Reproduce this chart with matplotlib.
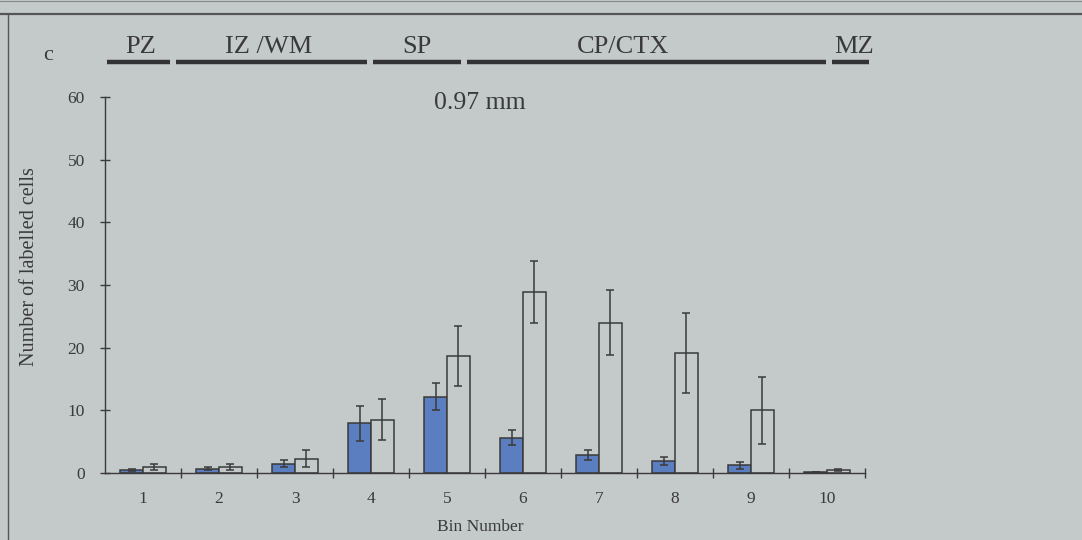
import matplotlib
matplotlib.use("Agg")
import numpy as np
from matplotlib import pyplot as plt
from matplotlib.lines import Line2D
import matplotlib.transforms as mtransforms

# values
bins = [1, 2, 3, 4, 5, 6, 7, 8, 9, 10]
filled_mean = [0.5, 0.7, 1.5, 7.9, 12.2, 5.6, 2.8, 1.9, 1.2, 0.2]
filled_err = [0.2, 0.3, 0.5, 2.8, 2.2, 1.2, 0.8, 0.6, 0.5, 0.0]
open_mean = [0.9, 1.0, 2.3, 8.5, 18.7, 28.9, 24.0, 19.2, 10.0, 0.5]
open_err = [0.5, 0.5, 1.4, 3.3, 4.8, 4.9, 5.2, 6.4, 5.3, 0.2]

# cortical zones drawn above the plot, in bin units
zones = ["PZ", "IZ /WM", "SP", "CP/CTX", "MZ"]
zone_start = [0.53, 1.43, 4.03, 5.26, 10.07]
zone_end = [1.36, 3.95, 5.18, 9.99, 10.55]
zone_label_x = [0.97, 2.65, 4.6, 7.32, 10.36]

BG = "#c4c9ca"
INK = "#3a3a3a"
BLUE = "#5b7ec0"

plt.rcParams["font.family"] = ["Liberation Serif", "DejaVu Serif"]

fig = plt.figure(figsize=(10.82, 5.40), dpi=100, facecolor=BG)
W, H = 1082, 540
ax = fig.add_axes([105 / W, (H - 473) / H, (865 - 105) / W, (473 - 97) / H])
ax.set_facecolor(BG)

x = np.array(bins, dtype=float)
bw = 0.3
ekw = dict(ecolor=INK, elinewidth=1.1, capsize=3, capthick=1.1)
ax.bar(x - bw / 2, filled_mean, bw, color=BLUE, edgecolor=INK, linewidth=1.1,
       yerr=filled_err, error_kw=ekw, zorder=2)
ax.bar(x + bw / 2, open_mean, bw, color=BG, edgecolor=INK, linewidth=1.1,
       yerr=open_err, error_kw=ekw, zorder=2)

ax.set_xlim(0.5, 10.5)
ax.set_ylim(0, 60)
for s in ["top", "right"]:
    ax.spines[s].set_visible(False)
for s in ["left", "bottom"]:
    ax.spines[s].set_color(INK)
    ax.spines[s].set_linewidth(1.0)

ax.set_yticks([0, 10, 20, 30, 40, 50, 60])
ax.tick_params(axis="y", direction="inout", length=7, width=1.0, color=INK,
               labelsize=12.5, labelcolor=INK, pad=11)

ax.set_xticks(np.arange(1.5, 10.6, 1.0))
ax.set_xticklabels([])
ax.tick_params(axis="x", which="major", direction="inout", length=7, width=1.0, color=INK)
ax.set_xticks(x, minor=True)
ax.set_xticklabels([str(b) for b in bins], minor=True)
ax.tick_params(axis="x", which="minor", length=0, labelsize=12.5, labelcolor=INK, pad=13)

fig.text(480 / W, 1 - 527 / H, "Bin Number", fontsize=12.5, color=INK,
         ha="center", va="center")
fig.text(30 / W, 1 - 267 / H, "Number of labelled cells", fontsize=14.5, color=INK,
         rotation=90, ha="center", va="center")

fig.text(480 / W, 1 - 103 / H, "0.97 mm", fontsize=18.5, color=INK,
         ha="center", va="center")
fig.text(48 / W, 1 - 55 / H, "c", fontsize=16, color=INK, ha="center", va="center")

# zone labels and bars above the axes
trans = mtransforms.blended_transform_factory(ax.transData, fig.transFigure)
for name, a, b, lx in zip(zones, zone_start, zone_end, zone_label_x):
    fig.add_artist(Line2D([a, b], [1 - 62 / H, 1 - 62 / H], transform=trans,
                          color="#333333", linewidth=3.2, solid_capstyle="butt"))
    fig.text(lx, 1 - 47 / H, name, transform=trans, fontsize=19, color=INK,
             ha="center", va="center")

# panel frame
fig.add_artist(Line2D([0, 1], [1 - 14 / H, 1 - 14 / H], transform=fig.transFigure,
                      color="#555555", linewidth=1.6))
fig.add_artist(Line2D([0, 1], [1 - 1 / H, 1 - 1 / H], transform=fig.transFigure,
                      color="#888888", linewidth=0.8))
fig.add_artist(Line2D([8 / W, 8 / W], [0, 1 - 14 / H], transform=fig.transFigure,
                      color="#555555", linewidth=1.0))

fig.savefig("out.png", dpi=100, facecolor=BG)
